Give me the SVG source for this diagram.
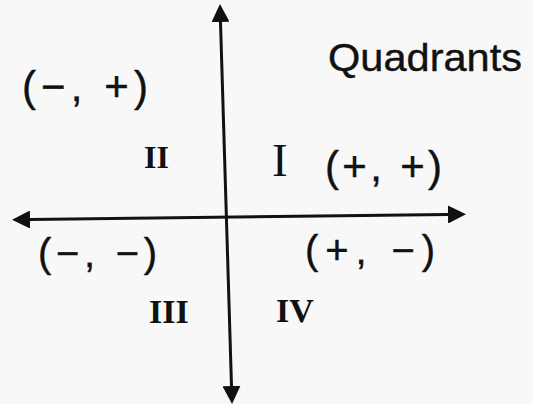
<svg xmlns="http://www.w3.org/2000/svg" width="533" height="404" viewBox="0 0 533 404">
  <style>
    .hand { font-family: "Liberation Sans", "DejaVu Sans", sans-serif; fill: #111; stroke: #111; stroke-width: 0.4; stroke-linejoin: round; }
    .roman { font-family: "Liberation Serif", "DejaVu Serif", serif; fill: #111; }
    .axis { stroke: #111; stroke-width: 3; fill: none; }
  </style>
  <defs>
    <marker id="arrow" markerUnits="userSpaceOnUse" viewBox="0 0 18 18" markerWidth="18" markerHeight="18" refX="0" refY="9" orient="auto-start-reverse">
      <path d="M0,0 L18,9 L0,18 z" fill="#111"/>
    </marker>
  </defs>
  <rect x="0" y="0" width="533" height="404" fill="#f8f8f8"/>

  <g id="connectors">
    <line class="axis" x1="220.5" y1="22" x2="231.5" y2="386" marker-start="url(#arrow)" marker-end="url(#arrow)"/>
    <line class="axis" x1="30" y1="219.5" x2="448" y2="214.5" marker-start="url(#arrow)" marker-end="url(#arrow)"/>
  </g>

  <g id="title">
    <text class="hand" x="328" y="71" font-size="38" textLength="194" lengthAdjust="spacingAndGlyphs">Quadrants</text>
  </g>

  <g id="quadrant-I">
    <text class="roman" x="272" y="176" font-size="47">I</text>
    <text class="hand" x="325" y="181" font-size="42" textLength="117" lengthAdjust="spacing">(+, +)</text>
  </g>
  <g id="quadrant-II">
    <text class="roman" x="144" y="168" font-size="32" font-weight="bold">II</text>
    <text class="hand" x="22" y="101" font-size="42" textLength="126" lengthAdjust="spacing">(−, +)</text>
  </g>
  <g id="quadrant-III">
    <text class="roman" x="149" y="323" font-size="34" font-weight="bold">III</text>
    <text class="hand" x="38" y="267" font-size="40" textLength="119" lengthAdjust="spacing">(−, −)</text>
  </g>
  <g id="quadrant-IV">
    <text class="roman" x="276" y="322" font-size="34" font-weight="bold">IV</text>
    <text class="hand" x="305" y="264" font-size="40" textLength="130" lengthAdjust="spacing">(+, −)</text>
  </g>
</svg>
